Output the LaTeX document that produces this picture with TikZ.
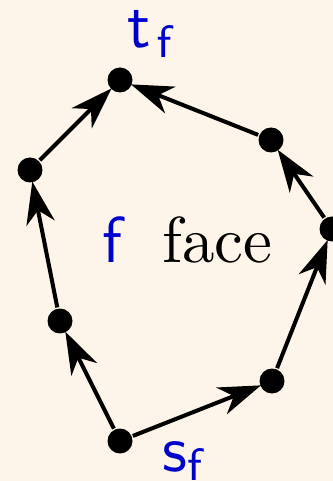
\documentclass[tikz,border=0pt]{standalone}
\usetikzlibrary{arrows.meta}
\definecolor{bgc}{RGB}{253,245,233}
\definecolor{lblue}{RGB}{0,0,204}
\begin{document}
\begin{tikzpicture}[x=0.154pt,y=-0.154pt,
  dot/.style={circle,fill=black,inner sep=0pt,minimum size=3.85pt},
  edge/.style={line width=0.62pt,shorten >=-0.3pt,-{Stealth[length=6.5pt,width=4.4pt,inset=2pt]}},
  lbl/.style={inner sep=0pt,anchor=base west}]
\fill[bgc] (0,0) rectangle (333,481);
\useasboundingbox (0,0) rectangle (333,481);
\node[dot] (t) at (120,80) {};
\node[dot] (rt) at (271,140) {};
\node[dot] (r) at (332,229) {};
\node[dot] (rb) at (272,381) {};
\node[dot] (s) at (120,441) {};
\node[dot] (lb) at (60,321) {};
\node[dot] (lt) at (30,170) {};
\draw[edge] (s) -- (lb);
\draw[edge] (lb) -- (lt);
\draw[edge] (lt) -- (t);
\draw[edge] (s) -- (rb);
\draw[edge] (rb) -- (r);
\draw[edge] (r) -- (rt);
\draw[edge] (rt) -- (t);
\node[lbl,text=lblue] (tl) at (126,48) {$\mathsf{t}_{\mkern2mu\mathsf{f}}$};
\node[lbl,text=lblue] (sl) at (161,471) {$\mathsf{s}_{\mathsf{f}}$};
\node[lbl,text=lblue] (fl) at (101,262) {$\mathsf{f}$};
\node[lbl] (face) at (161,262) {face};
\end{tikzpicture}
\end{document}
